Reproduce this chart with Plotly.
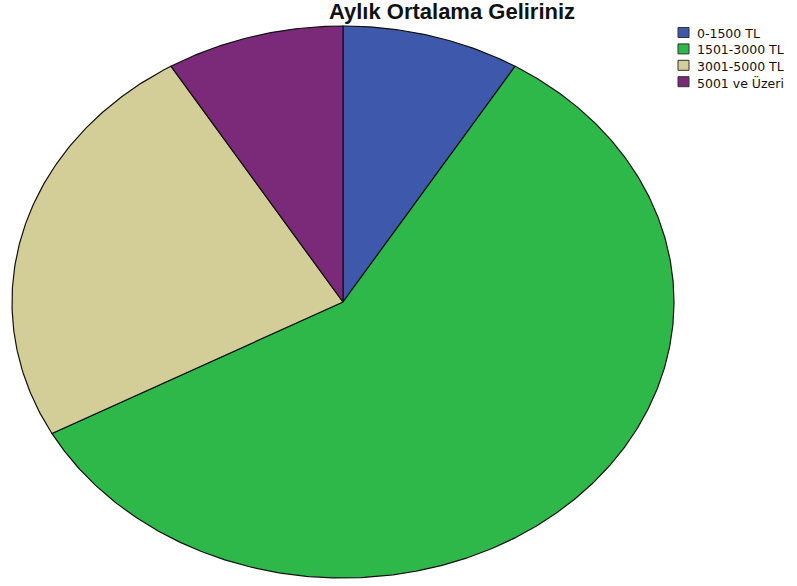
import numpy as np
import plotly.graph_objects as go

# Income groups and their share of respondents (%)
categories = ["0-1500 TL", "1501-3000 TL", "3001-5000 TL", "5001 ve Üzeri"]
shares = [8.7, 58.4, 24.2, 8.7]
colors = ["#3e58ac", "#2eb84a", "#d3ce97", "#7b2a7a"]

fig = go.Figure()

# Slices start at 12 o'clock and run clockwise; the unit circle is
# stretched into an ellipse by the different x/y axis scales.
total = sum(shares)
start = 0.0
for name, val, col in zip(categories, shares, colors):
    frac = val / total
    theta = np.linspace(start, start + frac, max(int(frac * 720), 8)) * 2 * np.pi
    xs = np.concatenate([[0.0], np.sin(theta), [0.0]])
    ys = np.concatenate([[0.0], np.cos(theta), [0.0]])
    fig.add_trace(go.Scatter(
        x=xs, y=ys, mode="lines", fill="toself", fillcolor=col,
        line=dict(color="#111111", width=1.2), name=name,
        hoverinfo="name", showlegend=False,
    ))
    start += frac

W, H = 797, 586
cx, cy, rx, ry = 343, 302, 331, 276

# Compact legend: swatch plus label per category, in paper coordinates
leg_x, leg_top, row_h = 678, 32.5, 16.4
shapes, annotations = [], []
for i, (name, col) in enumerate(zip(categories, colors)):
    yc = leg_top + i * row_h
    shapes.append(dict(
        type="rect", xref="paper", yref="paper",
        x0=leg_x / W, x1=(leg_x + 11) / W,
        y0=1 - (yc + 5) / H, y1=1 - (yc - 5) / H,
        fillcolor=col, line=dict(color="#333333", width=1),
    ))
    annotations.append(dict(
        text=name, xref="paper", yref="paper",
        x=(leg_x + 18) / W, y=1 - (yc + 1) / H, xanchor="left", yanchor="middle",
        showarrow=False, borderpad=0,
        font=dict(family="DejaVu Sans, Arial", size=12.5, color="#111111"),
    ))

fig.update_layout(
    width=W, height=H,
    margin=dict(l=0, r=0, t=0, b=0),
    paper_bgcolor="white", plot_bgcolor="white",
    xaxis=dict(range=[-cx / rx, (W - cx) / rx], visible=False, fixedrange=True),
    yaxis=dict(range=[(cy - H) / ry, cy / ry], visible=False, fixedrange=True),
    title=dict(
        text="<b>Aylık Ortalama Geliriniz</b>",
        x=452 / W, xanchor="center", y=1 - 11 / H, yanchor="middle",
        font=dict(family="Liberation Sans, Arial", size=22, color="#111111"),
    ),
    shapes=shapes,
    annotations=annotations,
    showlegend=False,
)

fig.write_html("out.html")
